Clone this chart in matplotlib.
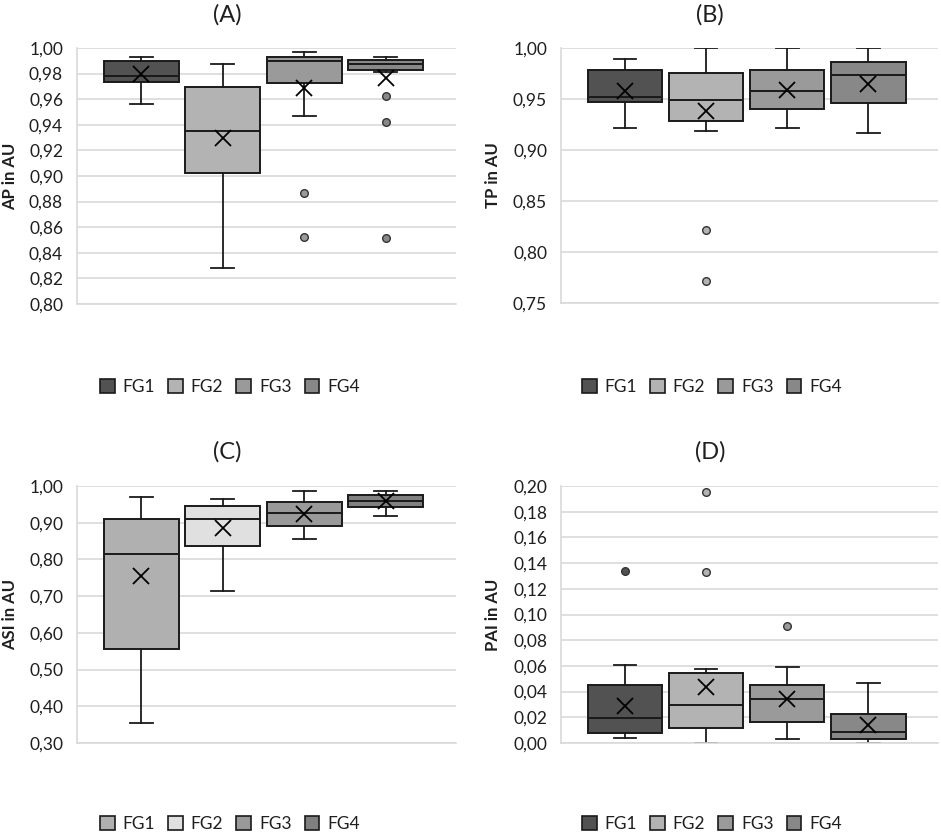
import matplotlib
matplotlib.use("Agg")
import matplotlib.pyplot as plt
from matplotlib.patches import Patch

plt.rcParams['font.family'] = ['Lato', 'DejaVu Sans']

groups = ["FG1", "FG2", "FG3", "FG4"]

# Panel A: AP
ap_whislo = [0.9563, 0.8278, 0.9467, 0.9815]
ap_q1 = [0.9737, 0.9027, 0.9730, 0.9828]
ap_med = [0.9784, 0.9352, 0.9896, 0.9873]
ap_q3 = [0.9900, 0.9693, 0.9930, 0.9909]
ap_whishi = [0.9927, 0.9875, 0.9969, 0.9930]
ap_mean = [0.9795, 0.9300, 0.9690, 0.9766]
ap_fliers = [[], [], [0.8866, 0.8520], [0.9625, 0.9425, 0.8515]]

# Panel B: TP
tp_whislo = [0.9214, 0.9188, 0.9214, 0.9169]
tp_q1 = [0.9472, 0.9289, 0.9400, 0.9465]
tp_med = [0.9518, 0.9488, 0.9580, 0.9736]
tp_q3 = [0.9782, 0.9756, 0.9788, 0.9863]
tp_whishi = [0.9889, 1.0000, 1.0000, 1.0000]
tp_mean = [0.9580, 0.9384, 0.9586, 0.9651]
tp_fliers = [[], [0.8217, 0.7712], [], []]

# Panel C: ASI
asi_whislo = [0.3555, 0.7145, 0.8564, 0.9182]
asi_q1 = [0.5564, 0.8364, 0.8918, 0.9436]
asi_med = [0.8155, 0.9100, 0.9255, 0.9600]
asi_q3 = [0.9100, 0.9445, 0.9555, 0.9745]
asi_whishi = [0.9700, 0.9636, 0.9864, 0.9873]
asi_mean = [0.7536, 0.8845, 0.9227, 0.9590]
asi_fliers = [[], [], [], []]

# Panel D: PAI
pai_whislo = [0.0039, 0.0000, 0.0034, 0.0000]
pai_q1 = [0.0081, 0.0119, 0.0166, 0.0034]
pai_med = [0.0197, 0.0299, 0.0345, 0.0086]
pai_q3 = [0.0455, 0.0548, 0.0449, 0.0226]
pai_whishi = [0.0610, 0.0577, 0.0590, 0.0470]
pai_mean = [0.0291, 0.0436, 0.0340, 0.0138]
pai_fliers = [[0.1335], [0.1956, 0.1330], [0.0909], []]

colors_top = ["#525252", "#b3b3b3", "#9a9a9a", "#888888"]
colors_bottom = ["#b0b0b0", "#e0e0e0", "#999999", "#808080"]

panels = [
    dict(title="(A)", ylabel="AP in AU", lo=ap_whislo, q1=ap_q1, med=ap_med, q3=ap_q3,
         hi=ap_whishi, mean=ap_mean, fl=ap_fliers, ylim=(0.80, 1.00), step=0.02,
         colors=colors_top, rect=(77, 456, 48, 304), tx=227, ty=15, lx=10, legy=387, legx=230),
    dict(title="(B)", ylabel="TP in AU", lo=tp_whislo, q1=tp_q1, med=tp_med, q3=tp_q3,
         hi=tp_whishi, mean=tp_mean, fl=tp_fliers, ylim=(0.75, 1.00), step=0.05,
         colors=colors_top, rect=(561, 938, 48, 303), tx=710, ty=15, lx=493, legy=387, legx=712),
    dict(title="(C)", ylabel="ASI in AU", lo=asi_whislo, q1=asi_q1, med=asi_med, q3=asi_q3,
         hi=asi_whishi, mean=asi_mean, fl=asi_fliers, ylim=(0.30, 1.00), step=0.10,
         colors=colors_bottom, rect=(77, 456, 486, 743), tx=227, ty=452, lx=10, legy=824, legx=230),
    dict(title="(D)", ylabel="PAI in AU", lo=pai_whislo, q1=pai_q1, med=pai_med, q3=pai_q3,
         hi=pai_whishi, mean=pai_mean, fl=pai_fliers, ylim=(0.00, 0.20), step=0.02,
         colors=colors_top, rect=(561, 938, 486, 743), tx=710, ty=452, lx=493, legy=824, legx=712),
]

W, H = 941, 835
fig = plt.figure(figsize=(W / 100, H / 100), dpi=100)
fig.patch.set_facecolor("white")

edge = "#1a1a1a"
for p in panels:
    x0, x1, y0, y1 = p["rect"]
    ax = fig.add_axes([x0 / W, 1 - y1 / H, (x1 - x0) / W, (y1 - y0) / H])
    stats = []
    for i in range(4):
        stats.append(dict(med=p["med"][i], q1=p["q1"][i], q3=p["q3"][i],
                          whislo=p["lo"][i], whishi=p["hi"][i], mean=p["mean"][i],
                          fliers=p["fl"][i], label=groups[i]))
    res = ax.bxp(stats, positions=range(4), widths=0.92, patch_artist=True,
                 showmeans=True, capwidths=0.28,
                 boxprops=dict(edgecolor=edge, linewidth=1.4),
                 medianprops=dict(color=edge, linewidth=1.4),
                 whiskerprops=dict(color=edge, linewidth=1.3),
                 capprops=dict(color=edge, linewidth=1.3),
                 meanprops=dict(marker="x", markeredgecolor="black", markersize=11,
                                markeredgewidth=1.3),
                 flierprops=dict(marker="o", markersize=5.5, markeredgecolor="#333333",
                                 markeredgewidth=1.0))
    for i, b in enumerate(res["boxes"]):
        b.set_facecolor(p["colors"][i])
    for i, f in enumerate(res["fliers"]):
        f.set_markerfacecolor(p["colors"][i])
    ax.set_xlim(-0.79, 3.86)
    ax.set_ylim(*p["ylim"])
    lo, hi = p["ylim"]
    n = int(round((hi - lo) / p["step"]))
    ticks = [lo + k * p["step"] for k in range(n + 1)]
    ax.set_yticks(ticks)
    ax.set_yticklabels([f"{t:.2f}".replace(".", ",") for t in ticks], fontsize=12.5,
                       color="#1f1f1f")
    ax.set_xticks([])
    ax.tick_params(axis="y", length=0, pad=10)
    ax.yaxis.grid(True, color="#d9d9d9", linewidth=1.2)
    ax.set_axisbelow(True)
    for s in ["top", "right"]:
        ax.spines[s].set_visible(False)
    ax.spines["left"].set_color("#d9d9d9")
    ax.spines["bottom"].set_color("#d9d9d9")
    ax.spines["left"].set_linewidth(1.2)
    ax.spines["bottom"].set_linewidth(1.2)
    fig.text(p["tx"] / W, 1 - p["ty"] / H, p["title"], ha="center", va="center",
             fontsize=17, color="#1f1f1f")
    fig.text(p["lx"] / W, 1 - ((y0 + y1) / 2) / H, p["ylabel"], ha="center", va="center",
             rotation=90, fontsize=12, fontweight="bold", color="#1f1f1f")
    handles = [Patch(facecolor=p["colors"][i], edgecolor=edge, linewidth=1.2, label=groups[i])
               for i in range(4)]
    fig.legend(handles=handles, loc="center", bbox_to_anchor=(p["legx"] / W, 1 - p["legy"] / H),
               ncol=4, frameon=False, fontsize=12.5, handlelength=0.85, handleheight=0.85,
               handletextpad=0.45, columnspacing=0.75, borderpad=0, labelcolor="#1f1f1f")

fig.savefig("out.png", dpi=100, facecolor="white")
